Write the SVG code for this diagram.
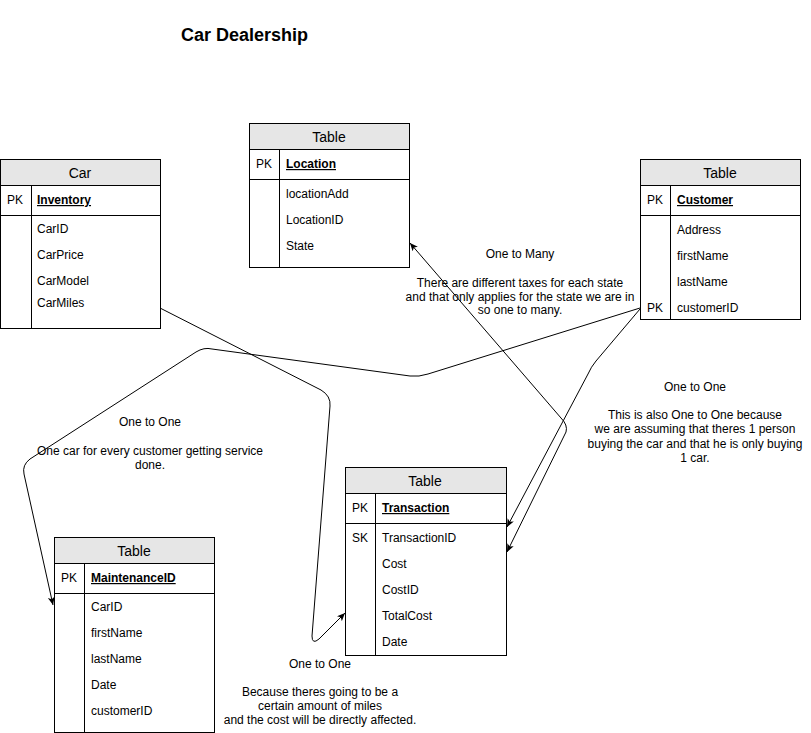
<svg xmlns="http://www.w3.org/2000/svg" width="811" height="733" viewBox="0 0 811 733">
<style>
text{font-family:"Liberation Sans",Arial,Helvetica,sans-serif;font-size:12px;fill:#000}
.hdr{font-size:14px;text-anchor:middle}
.pkn{font-weight:bold;text-decoration:underline}
.lbl{text-anchor:middle}
.title{font-size:18px;font-weight:bold}
.box{fill:#fff;stroke:#000;stroke-width:1}
.head{fill:#e6e6e6;stroke:#000;stroke-width:1}
.ln{stroke:#000;stroke-width:1;fill:none}
.edge{stroke:#000;stroke-width:1;fill:none;marker-end:url(#arr)}
</style>
<defs>
<marker id="arr" markerUnits="userSpaceOnUse" markerWidth="10" markerHeight="10" refX="8" refY="3.5" orient="auto-start-reverse" viewBox="0 0 10 10">
<path d="M0 0 L8 3.5 L0 7 L2 3.5 Z" fill="#000"/>
</marker>
</defs>
<rect width="811" height="733" fill="#fff"/>
<text class="title" x="181" y="41">Car Dealership</text>

<g id="car">
<rect class="box" x="0.5" y="159.5" width="160" height="169"/>
<rect class="head" x="0.5" y="159.5" width="160" height="26"/>
<line class="ln" x1="0.5" y1="215.5" x2="160.5" y2="215.5"/>
<line class="ln" x1="31.5" y1="185.5" x2="31.5" y2="328.5"/>
<text class="hdr" x="80" y="178">Car</text>
<text x="7" y="204">PK</text>
<text class="pkn" x="37" y="204">Inventory</text>
<text x="37" y="233">CarID</text>
<text x="37" y="259">CarPrice</text>
<text x="37" y="285">CarModel</text>
<text x="37" y="307">CarMiles</text>
</g>

<g id="location">
<rect class="box" x="249.5" y="123.5" width="160" height="144"/>
<rect class="head" x="249.5" y="123.5" width="160" height="26"/>
<line class="ln" x1="249.5" y1="179.5" x2="409.5" y2="179.5"/>
<line class="ln" x1="279.5" y1="149.5" x2="279.5" y2="267.5"/>
<text class="hdr" x="329" y="142">Table</text>
<text x="256" y="168">PK</text>
<text class="pkn" x="286" y="168">Location</text>
<text x="286" y="198">locationAdd</text>
<text x="286" y="224">LocationID</text>
<text x="286" y="250">State</text>
</g>

<g id="customer">
<rect class="box" x="640.5" y="159.5" width="160" height="160"/>
<rect class="head" x="640.5" y="159.5" width="160" height="26"/>
<line class="ln" x1="640.5" y1="215.5" x2="800.5" y2="215.5"/>
<line class="ln" x1="670.5" y1="185.5" x2="670.5" y2="319.5"/>
<text class="hdr" x="720" y="178">Table</text>
<text x="647" y="204">PK</text>
<text class="pkn" x="677" y="204">Customer</text>
<text x="677" y="234">Address</text>
<text x="677" y="260">firstName</text>
<text x="677" y="286">lastName</text>
<text x="647" y="312">PK</text>
<text x="677" y="312">customerID</text>
</g>

<g id="transaction">
<rect class="box" x="345.5" y="467.5" width="161" height="188"/>
<rect class="head" x="345.5" y="467.5" width="161" height="26"/>
<line class="ln" x1="345.5" y1="523.5" x2="506.5" y2="523.5"/>
<line class="ln" x1="375.5" y1="493.5" x2="375.5" y2="655.5"/>
<text class="hdr" x="425" y="486">Table</text>
<text x="352" y="512">PK</text>
<text class="pkn" x="382" y="512">Transaction</text>
<text x="352" y="542">SK</text>
<text x="382" y="542">TransactionID</text>
<text x="382" y="568">Cost</text>
<text x="382" y="594">CostID</text>
<text x="382" y="620">TotalCost</text>
<text x="382" y="646">Date</text>
</g>

<g id="maintenance">
<rect class="box" x="54.5" y="537.5" width="160" height="195"/>
<rect class="head" x="54.5" y="537.5" width="160" height="26"/>
<line class="ln" x1="54.5" y1="593.5" x2="214.5" y2="593.5"/>
<line class="ln" x1="84.5" y1="563.5" x2="84.5" y2="732.5"/>
<text class="hdr" x="134" y="556">Table</text>
<text x="61" y="582">PK</text>
<text class="pkn" x="91" y="582">MaintenanceID</text>
<text x="91" y="611">CarID</text>
<text x="91" y="637">firstName</text>
<text x="91" y="663">lastName</text>
<text x="91" y="689">Date</text>
<text x="91" y="715">customerID</text>
</g>

<g id="connectors">
<path class="edge" d="M160 308 L321 390 Q331 396 330 406 L312 636 Q312 645 319 639 L345 613"/>
<path class="edge" d="M640 308 L428 374 Q419 377 410 376 L212 349 Q204 347 196 352 L30 459 Q22 465 24 474 L53 605"/>
<path class="edge" d="M640 309 L596 361 Q591 367 588 374 L507 527"/>
<path class="edge" style="marker-start:url(#arr)" d="M410 243 L561 418 Q568 425 566 432 L507 552"/>
</g>

<g id="labels">
<text class="lbl" x="520" y="258">One to Many</text>
<text class="lbl" x="520" y="287">There are different taxes for each state</text>
<text class="lbl" x="520" y="301">and that only applies for the state we are in</text>
<text class="lbl" x="520" y="314">so one to many.</text>
<text class="lbl" x="695" y="391">One to One</text>
<text class="lbl" x="695" y="419">This is also One to One because</text>
<text class="lbl" x="695" y="433">we are assuming that theres 1 person</text>
<text class="lbl" x="695" y="448">buying the car and that he is only buying</text>
<text class="lbl" x="695" y="462">1 car.</text>
<text class="lbl" x="150" y="426">One to One</text>
<text class="lbl" x="150" y="455">One car for every customer getting service</text>
<text class="lbl" x="150" y="469">done.</text>
<text class="lbl" x="320" y="668">One to One</text>
<text class="lbl" x="320" y="696">Because theres going to be a</text>
<text class="lbl" x="320" y="710">certain amount of miles</text>
<text class="lbl" x="320" y="724">and the cost will be directly affected.</text>
</g>
</svg>
